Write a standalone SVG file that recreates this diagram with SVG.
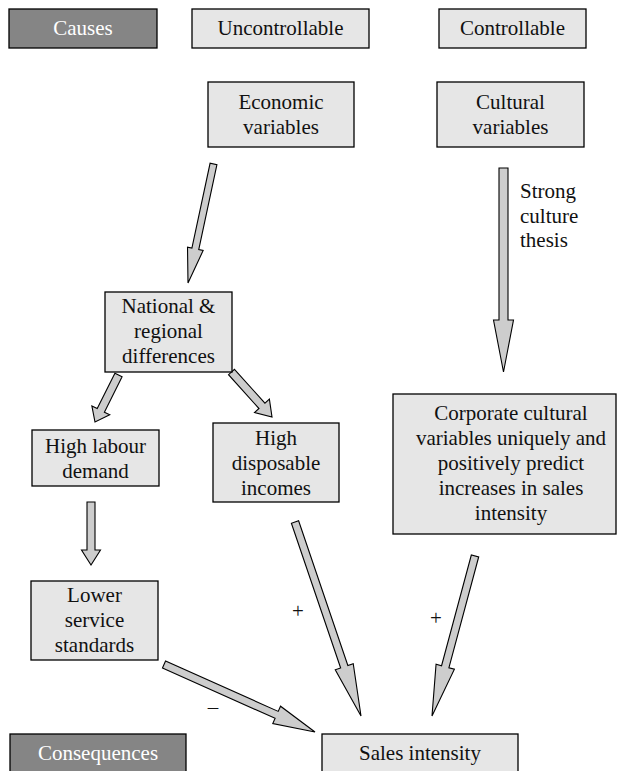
<svg xmlns="http://www.w3.org/2000/svg" width="617" height="771" viewBox="0 0 617 771" font-family="Liberation Serif, DejaVu Serif, serif" font-size="21">
<style>
.box{fill:#e6e6e6;stroke:#000;stroke-width:1.3}
.dark{fill:#858585;stroke:#000;stroke-width:1.3}
.arrow{fill:#cdcdcd;stroke:#000;stroke-width:1.1;stroke-linejoin:miter}
text{fill:#111;text-anchor:middle}
.w{fill:#fff}
.l{text-anchor:start}
</style>
<rect width="617" height="771" fill="#fff"/>
<g id="connectors">
<polygon class="arrow" points="216.92,164.73 198.75,249.51 203.15,250.46 188,283 187.51,247.10 191.91,248.05 210.08,163.27"/>
<polygon class="arrow" points="499,168 508,168 508,320 513.5,320 503.5,372 493.5,320 499,320"/>
<polygon class="arrow" points="122.08,376.79 104.39,412.16 109.75,414.84 95,422 91.87,405.9 97.23,408.58 114.92,373.21"/>
<polygon class="arrow" points="234.47,369.32 264.93,403.17 269.39,399.16 272,417 254.53,412.54 258.99,408.53 228.53,374.68"/>
<polygon class="arrow" points="87,502 95,502 95,550 100.5,550 91,565 81.5,550 87,550"/>
<polygon class="arrow" points="298.6,520.78 347.85,665.55 353.24,663.71 361,716 335.26,669.83 340.65,667.99 291.4,523.22"/>
<polygon class="arrow" points="478.67,556.99 448.9,667.74 454.4,669.22 432,716 436.06,664.28 441.56,665.76 471.33,555.01"/>
<polygon class="arrow" points="162.45,667.97 275.11,718.33 272.78,723.53 315,732 280.54,706.19 278.21,711.39 165.55,661.03"/>
<text x="520" y="198" class="l">Strong</text>
<text x="520" y="222.5" class="l">culture</text>
<text x="520" y="247" class="l">thesis</text>
<text x="298" y="618">+</text>
<text x="436" y="625">+</text>
<text x="213" y="714">–</text>
</g>
<g id="causes"><rect class="dark" x="9" y="9" width="148" height="39"/><text class="w" x="83" y="35">Causes</text></g>
<g id="uncontrollable"><rect class="box" x="192" y="9" width="177" height="39"/><text x="280.5" y="35">Uncontrollable</text></g>
<g id="controllable"><rect class="box" x="439" y="9" width="147" height="39"/><text x="512.5" y="35">Controllable</text></g>
<g id="economic"><rect class="box" x="208" y="82" width="146" height="65"/><text x="281" y="109">Economic</text><text x="281" y="134">variables</text></g>
<g id="cultural"><rect class="box" x="437" y="82" width="147" height="65"/><text x="510.5" y="109">Cultural</text><text x="510.5" y="134">variables</text></g>
<g id="national"><rect class="box" x="105" y="292" width="127" height="80"/><text x="168.5" y="313">National &amp;</text><text x="168.5" y="338">regional</text><text x="168.5" y="363">differences</text></g>
<g id="labour"><rect class="box" x="32" y="430" width="127" height="56"/><text x="95.5" y="453">High labour</text><text x="95.5" y="478">demand</text></g>
<g id="disposable"><rect class="box" x="213" y="423" width="126" height="79"/><text x="276" y="445">High</text><text x="276" y="470">disposable</text><text x="276" y="495">incomes</text></g>
<g id="corporate"><rect class="box" x="393" y="394" width="223" height="140"/><text x="511" y="420">Corporate cultural</text><text x="511" y="445">variables uniquely and</text><text x="511" y="470">positively predict</text><text x="511" y="495">increases in sales</text><text x="511" y="520">intensity</text></g>
<g id="lower"><rect class="box" x="31" y="581" width="127" height="79"/><text x="94.5" y="602">Lower</text><text x="94.5" y="627">service</text><text x="94.5" y="652">standards</text></g>
<g id="consequences"><rect class="dark" x="10" y="734" width="176" height="50"/><text class="w" x="98" y="760">Consequences</text></g>
<g id="sales"><rect class="box" x="322" y="734" width="196" height="50"/><text x="420" y="760">Sales intensity</text></g>
</svg>
